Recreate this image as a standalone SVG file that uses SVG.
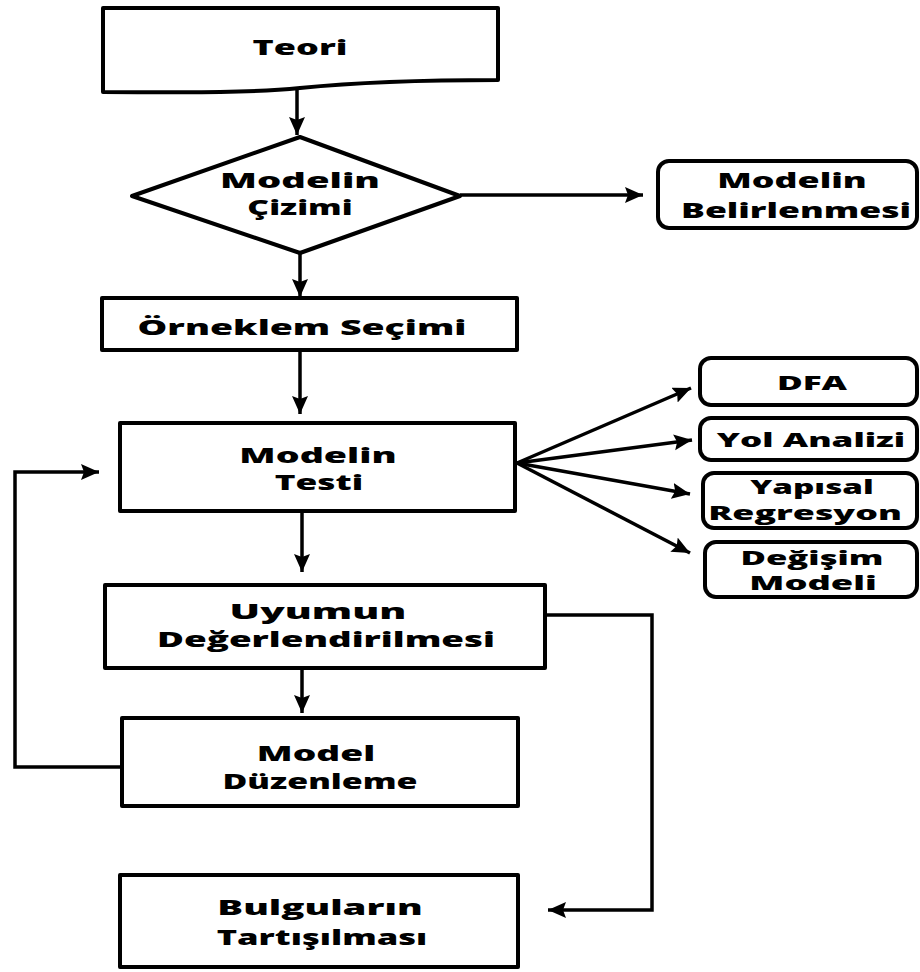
<svg xmlns="http://www.w3.org/2000/svg" width="920" height="972" viewBox="0 0 920 972">
  <style>
    .shape { fill: #ffffff; stroke: #000000; stroke-width: 4; stroke-linejoin: round; }
    .edge { fill: none; stroke: #000000; stroke-width: 3.5; stroke-linejoin: miter; }
    .lbl { font-family: "Open Sans", "Noto Sans", "DejaVu Sans", sans-serif; font-weight: 800; font-size: 21px; fill: #000000; text-anchor: middle; }
    .small { font-size: 19px; }
  </style>
  <defs>
    <marker id="arrow" markerUnits="userSpaceOnUse" markerWidth="19" markerHeight="17" refX="18" refY="8" orient="auto">
      <path d="M0,0 L18,8 L0,16 L3,8 Z" fill="#000000"/>
    </marker>
  </defs>
  <rect width="920" height="972" fill="#ffffff"/>

  <!-- connectors -->
  <g id="connectors">
    <line class="edge" x1="297" y1="89" x2="297" y2="135" marker-end="url(#arrow)"/>
    <line class="edge" x1="300" y1="253" x2="300" y2="297" marker-end="url(#arrow)"/>
    <line class="edge" x1="460" y1="195" x2="643" y2="195" stroke-width="3" marker-end="url(#arrow)"/>
    <line class="edge" x1="300" y1="350" x2="300" y2="414" marker-end="url(#arrow)"/>
    <line class="edge" x1="302" y1="511" x2="302" y2="572" marker-end="url(#arrow)"/>
    <line class="edge" x1="302" y1="668" x2="302" y2="713" marker-end="url(#arrow)"/>
    <line class="edge" x1="517" y1="463" x2="691" y2="388" marker-end="url(#arrow)"/>
    <line class="edge" x1="517" y1="463" x2="692" y2="440" marker-end="url(#arrow)"/>
    <line class="edge" x1="517" y1="463" x2="690" y2="494" marker-end="url(#arrow)"/>
    <line class="edge" x1="517" y1="463" x2="690" y2="553" marker-end="url(#arrow)"/>
    <path class="edge" d="M122,767 H15 V472 H99" marker-end="url(#arrow)"/>
    <path class="edge" d="M545,615 H652 V910 H548" marker-end="url(#arrow)"/>
  </g>

  <!-- nodes; labels are widened with a horizontal scale -->
  <g id="teori">
    <path class="shape" d="M103,8 H498 V80 C430,80 360,82 300,88 C240,94 160,92 103,92 Z"/>
    <text class="lbl" transform="translate(300,55) scale(1.3,1)" textLength="73" lengthAdjust="spacingAndGlyphs">Teori</text>
  </g>

  <g id="modelin-cizimi">
    <polygon class="shape" points="132,196 300,137 460,196 300,253"/>
    <text class="lbl" transform="translate(300,188) scale(1.3,1)" textLength="123" lengthAdjust="spacingAndGlyphs">Modelin</text>
    <text class="lbl" transform="translate(300,215) scale(1.3,1)" textLength="81" lengthAdjust="spacingAndGlyphs">Çizimi</text>
  </g>

  <g id="modelin-belirlenmesi">
    <rect class="shape" x="658" y="161" width="259" height="67" rx="11"/>
    <text class="lbl" transform="translate(792,188) scale(1.3,1)" textLength="115" lengthAdjust="spacingAndGlyphs">Modelin</text>
    <text class="lbl" transform="translate(796,218) scale(1.3,1)" textLength="177" lengthAdjust="spacingAndGlyphs">Belirlenmesi</text>
  </g>

  <g id="orneklem-secimi">
    <rect class="shape" x="102" y="298" width="415" height="52"/>
    <text class="lbl" transform="translate(302,335) scale(1.3,1)" textLength="253" lengthAdjust="spacingAndGlyphs">Örneklem Seçimi</text>
  </g>

  <g id="modelin-testi">
    <rect class="shape" x="120" y="423" width="395" height="88"/>
    <text class="lbl" transform="translate(318,463) scale(1.3,1)" textLength="121" lengthAdjust="spacingAndGlyphs">Modelin</text>
    <text class="lbl" transform="translate(319,490) scale(1.3,1)" textLength="68" lengthAdjust="spacingAndGlyphs">Testi</text>
  </g>

  <g id="dfa">
    <rect class="shape" x="700" y="358" width="217" height="47" rx="11"/>
    <text class="lbl small" transform="translate(812,390) scale(1.3,1)" textLength="54" lengthAdjust="spacingAndGlyphs">DFA</text>
  </g>

  <g id="yol-analizi">
    <rect class="shape" x="700" y="418" width="217" height="42" rx="11"/>
    <text class="lbl small" transform="translate(811,447) scale(1.3,1)" textLength="145" lengthAdjust="spacingAndGlyphs">Yol Analizi</text>
  </g>

  <g id="yapisal-regresyon">
    <rect class="shape" x="703" y="473" width="214" height="55" rx="11"/>
    <text class="lbl small" transform="translate(812,494) scale(1.3,1)" textLength="95" lengthAdjust="spacingAndGlyphs">Yapısal</text>
    <text class="lbl small" transform="translate(805,520) scale(1.3,1)" textLength="149" lengthAdjust="spacingAndGlyphs">Regresyon</text>
  </g>

  <g id="degisim-modeli">
    <rect class="shape" x="705" y="542" width="212" height="55" rx="11"/>
    <text class="lbl small" transform="translate(812,565) scale(1.3,1)" textLength="110" lengthAdjust="spacingAndGlyphs">Değişim</text>
    <text class="lbl small" transform="translate(813,590) scale(1.3,1)" textLength="98" lengthAdjust="spacingAndGlyphs">Modeli</text>
  </g>

  <g id="uyumun-degerlendirilmesi">
    <rect class="shape" x="105" y="585" width="440" height="83"/>
    <text class="lbl" transform="translate(318,619) scale(1.3,1)" textLength="136" lengthAdjust="spacingAndGlyphs">Uyumun</text>
    <text class="lbl" transform="translate(326,647) scale(1.3,1)" textLength="260" lengthAdjust="spacingAndGlyphs">Değerlendirilmesi</text>
  </g>

  <g id="model-duzenleme">
    <rect class="shape" x="122" y="718" width="396" height="88"/>
    <text class="lbl" transform="translate(316,761) scale(1.3,1)" textLength="91" lengthAdjust="spacingAndGlyphs">Model</text>
    <text class="lbl" transform="translate(320,789) scale(1.3,1)" textLength="150" lengthAdjust="spacingAndGlyphs">Düzenleme</text>
  </g>

  <g id="bulgularin-tartisilmasi">
    <rect class="shape" x="120" y="875" width="398" height="92"/>
    <text class="lbl" transform="translate(320,915) scale(1.3,1)" textLength="158" lengthAdjust="spacingAndGlyphs">Bulguların</text>
    <text class="lbl" transform="translate(322,945) scale(1.3,1)" textLength="162" lengthAdjust="spacingAndGlyphs">Tartışılması</text>
  </g>
</svg>
